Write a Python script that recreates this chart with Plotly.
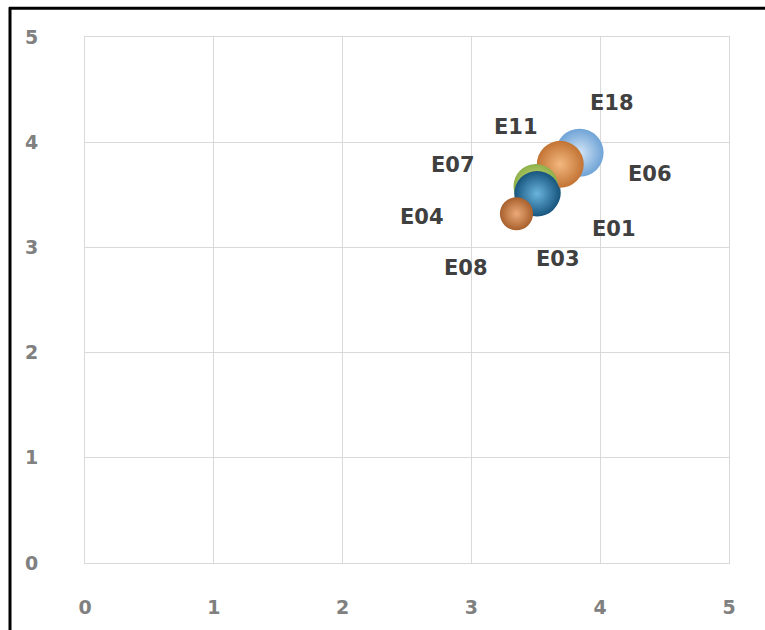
import plotly.graph_objects as go

# ---- data ----
labels = ["E03", "E08", "E07", "E18", "E06", "E11", "E01", "E04"]
x_vals = [3.53, 3.50, 3.52, 3.84, 3.69, 3.50, 3.51, 3.35]
y_vals = [3.52, 3.52, 3.54, 3.90, 3.79, 3.58, 3.51, 3.32]
bubble_size = [3.7, 3.5, 3.6, 4.2, 4.1, 3.9, 4.0, 2.9]
tick_vals = [0, 1, 2, 3, 4, 5]

# ---- styles ----
outer_colors = ["#1B5E86", "#1B5E86", "#1B5E86", "#6FA3D6", "#C27333", "#8DB04A", "#17557D", "#A8602C"]
inner_colors = ["#5BA7D4", "#5BA7D4", "#5BA7D4", "#D3E5F6", "#F3B880", "#E2EA8C", "#6AB4DE", "#EBAA7A"]
label_shift = {
    "E18": (32, 50), "E06": (90, -10), "E11": (-20, 59), "E01": (77, -35),
    "E04": (-94, -3), "E07": (-85, 26), "E03": (18, -66), "E08": (-70, -75),
}
max_diam = 48
sizeref = max(bubble_size) / max_diam

fig = go.Figure()
for i, lab in enumerate(labels):
    fig.add_trace(go.Scatter(
        x=[x_vals[i]], y=[y_vals[i]], mode="markers", name=lab,
        marker=dict(size=[bubble_size[i]], sizemode="diameter", sizeref=sizeref,
                    color=outer_colors[i], opacity=1,
                    gradient=dict(type="radial", color=inner_colors[i]),
                    line=dict(width=0)),
        showlegend=False, hoverinfo="text", text=[lab],
    ))
    dx, dy = label_shift[lab]
    fig.add_annotation(x=x_vals[i], y=y_vals[i], xref="x", yref="y", text=lab,
                       showarrow=False, xshift=dx, yshift=dy,
                       font=dict(family="DejaVu Sans", size=21, color="#404040", weight="bold"))

W, H = 765, 630
L, R, T, B = 85, 36, 37, 63
pw, ph = W - L - R, H - T - B
px = lambda p: (p - L) / pw
py = lambda p: (H - B - p) / ph
# black frame (left and top)
fig.add_shape(type="line", xref="paper", yref="paper", x0=px(10), x1=px(10), y0=py(7), y1=py(640),
              line=dict(color="black", width=3))
fig.add_shape(type="line", xref="paper", yref="paper", x0=px(9), x1=px(770), y0=py(8), y1=py(8),
              line=dict(color="black", width=3))

axis_font = dict(family="DejaVu Sans", size=19, color="#808080", weight="bold")
fig.update_xaxes(range=[0, 5], tickvals=tick_vals, showgrid=True, gridcolor="#D9D9D9", gridwidth=1,
                 zeroline=False, showline=True, linecolor="#D9D9D9", mirror=True,
                 tickfont=axis_font, ticklabelstandoff=27, ticks="")
fig.update_yaxes(range=[0, 5], tickvals=tick_vals, showgrid=True, gridcolor="#D9D9D9", gridwidth=1,
                 zeroline=False, showline=True, linecolor="#D9D9D9", mirror=True,
                 tickfont=axis_font, ticklabelstandoff=42, ticks="")
fig.update_layout(width=W, height=H, margin=dict(l=L, r=R, t=T, b=B),
                  plot_bgcolor="white", paper_bgcolor="white")
fig.write_html("out.html", config={"displayModeBar": False},
               post_script="document.body.style.margin='0px';")
